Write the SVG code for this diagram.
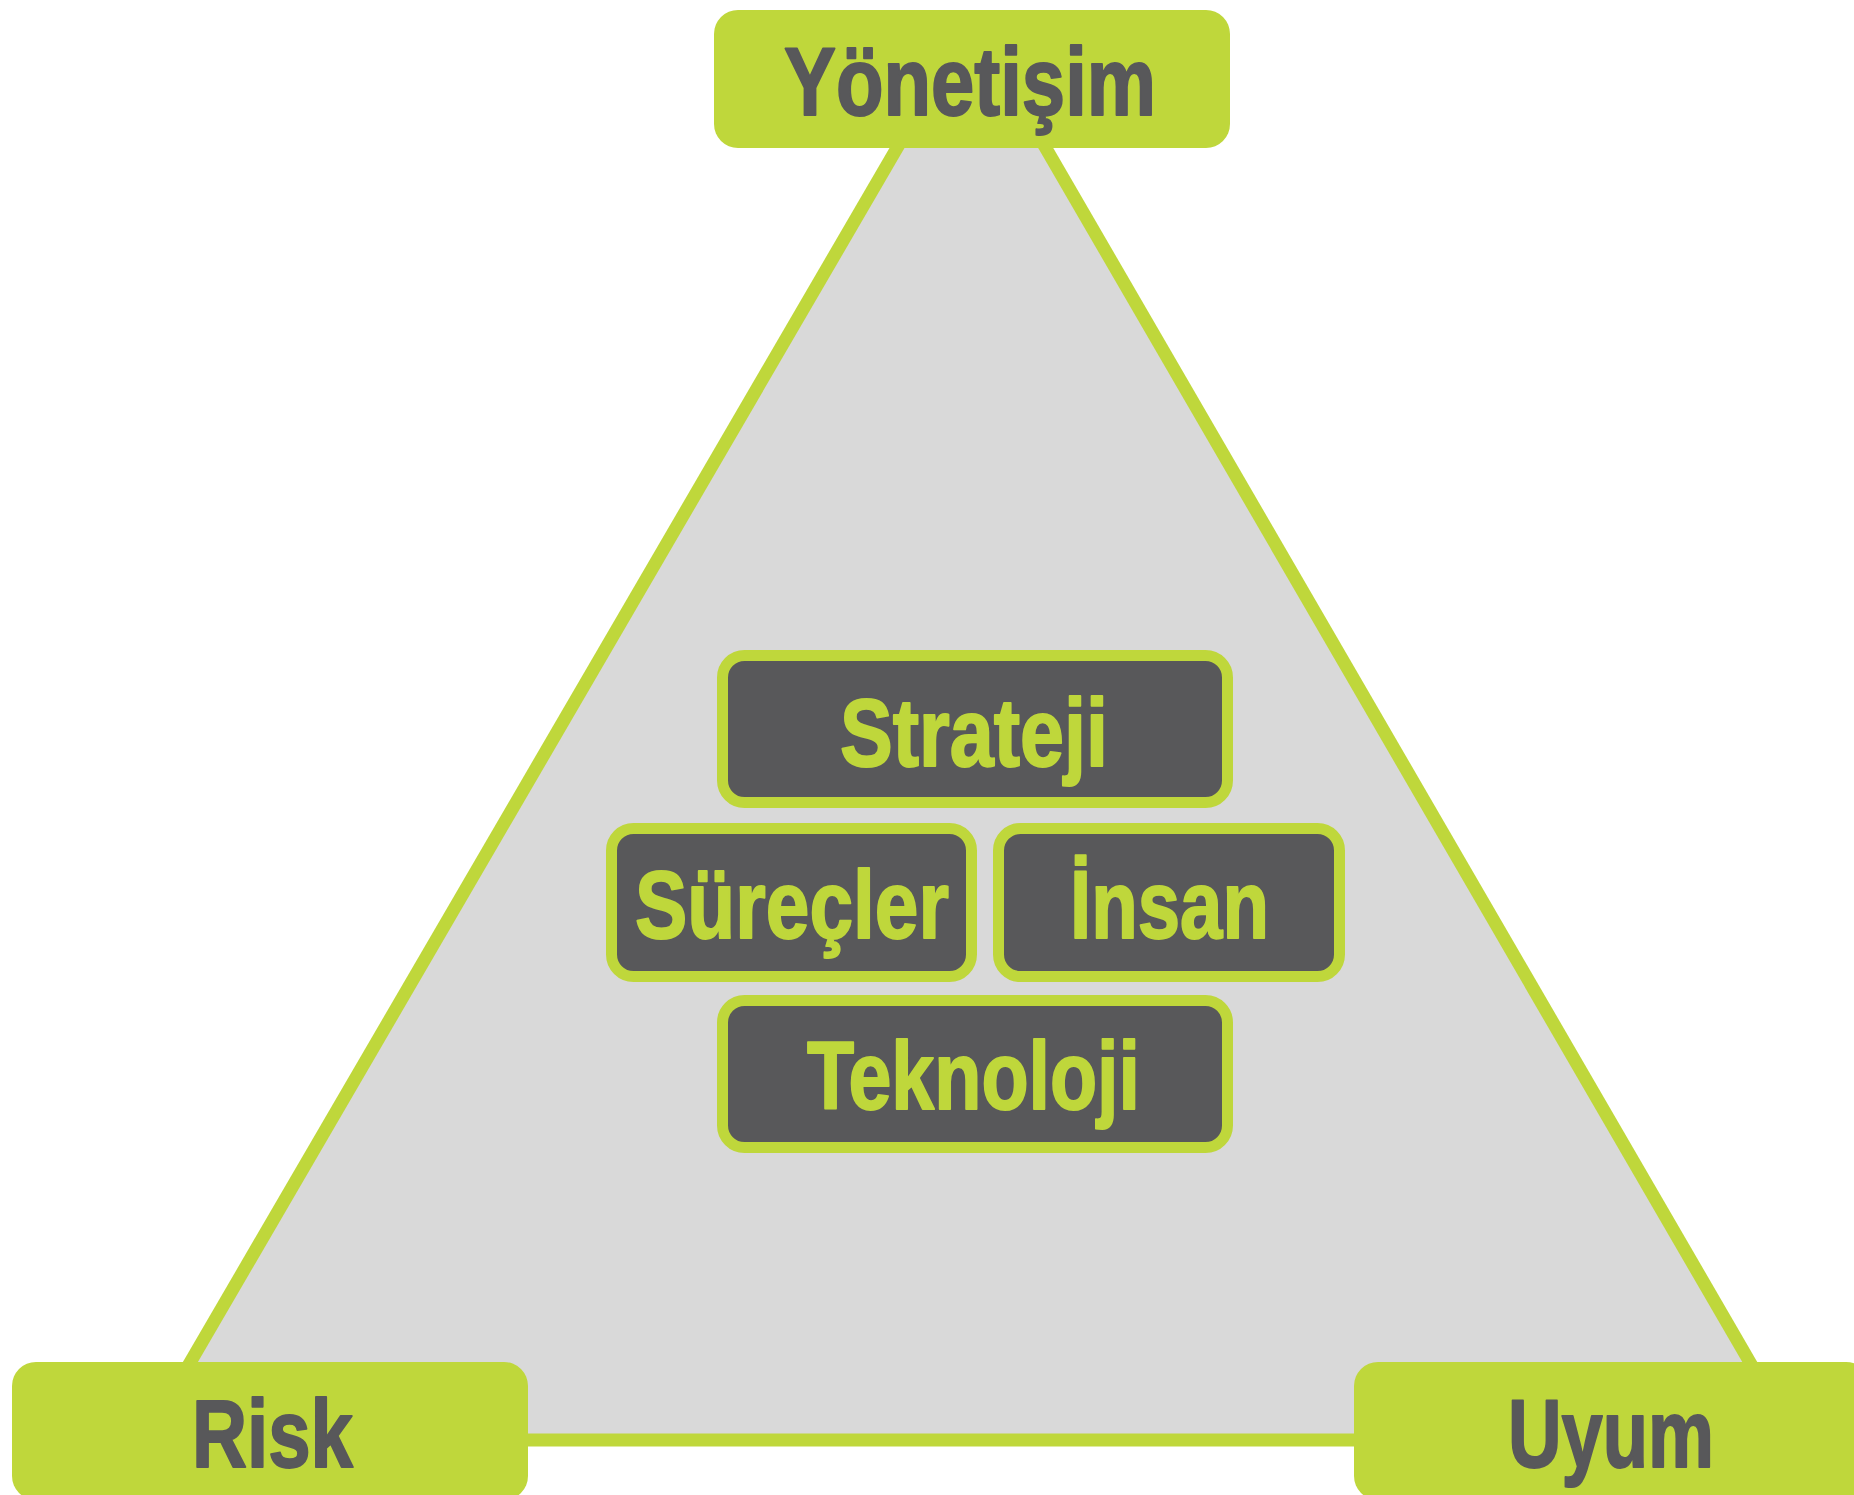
<svg xmlns="http://www.w3.org/2000/svg" width="1854" height="1495" viewBox="0 0 1854 1495">
<style>
.corner{fill:#bfd73b}
.inner{fill:#58585a;stroke:#bfd73b;stroke-width:11}
.edge{stroke:#bfd73b;stroke-width:13;fill:none}
.lbl{font-family:"Liberation Sans Narrow","Liberation Sans",Arial,sans-serif;font-stretch:condensed;font-weight:bold;font-size:97px;text-anchor:middle;stroke-width:2;stroke-linejoin:round}
.dark{fill:#58585a;stroke:#58585a}
.green{fill:#bfd73b;stroke:#bfd73b}
</style>
<rect width="1854" height="1495" fill="#ffffff"/>
<polygon points="971.5,20 145,1440 1795,1440" fill="#d9d9d9"/>
<g id="connectors">
<line class="edge" x1="971.5" y1="20" x2="145" y2="1440"/>
<line class="edge" x1="971.5" y1="20" x2="1795" y2="1440"/>
<line class="edge" x1="145" y1="1440" x2="1795" y2="1440"/>
</g>
<g id="yonetisim">
<rect class="corner" x="714" y="10" width="516" height="138" rx="24"/>
<text class="lbl dark" x="970" y="115" textLength="372" lengthAdjust="spacingAndGlyphs">Yönetişim</text>
</g>
<g id="risk">
<rect class="corner" x="12" y="1362" width="516" height="138" rx="24"/>
<text class="lbl dark" x="272.5" y="1467" textLength="161" lengthAdjust="spacingAndGlyphs">Risk</text>
</g>
<g id="uyum">
<rect class="corner" x="1354" y="1362" width="516" height="138" rx="24"/>
<text class="lbl dark" x="1611" y="1467" textLength="206" lengthAdjust="spacingAndGlyphs">Uyum</text>
</g>
<g id="strateji">
<rect class="inner" x="722.5" y="655.5" width="505" height="147" rx="22"/>
<text class="lbl green" x="974" y="766" textLength="268" lengthAdjust="spacingAndGlyphs">Strateji</text>
</g>
<g id="surecler">
<rect class="inner" x="611.5" y="828.5" width="360" height="148" rx="22"/>
<text class="lbl green" x="792" y="938" textLength="314" lengthAdjust="spacingAndGlyphs">Süreçler</text>
</g>
<g id="insan">
<rect class="inner" x="998.5" y="828.5" width="341" height="148" rx="22"/>
<text class="lbl green" x="1169.5" y="938" textLength="199" lengthAdjust="spacingAndGlyphs">İnsan</text>
</g>
<g id="teknoloji">
<rect class="inner" x="722.5" y="1000.5" width="505" height="147" rx="22"/>
<text class="lbl green" x="973.5" y="1109" textLength="333" lengthAdjust="spacingAndGlyphs">Teknoloji</text>
</g>
</svg>
